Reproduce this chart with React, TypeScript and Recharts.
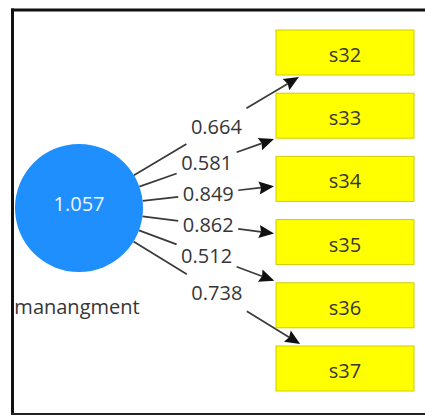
import React from 'react';
import { ScatterChart, Scatter, XAxis, YAxis, ReferenceLine } from 'recharts';

// ---- data ----
const indicators = ['s32', 's33', 's34', 's35', 's36', 's37'];
const loadings = [0.664, 0.581, 0.849, 0.862, 0.512, 0.738];
const latentName = 'manangment';
const latentVariance = [1.057];

// ---- layout ----
const W = 425;
const H = 416;
const FONT = '"Open Sans", "Noto Sans", sans-serif';
const TEXT = '#363636';
const LINE = '#3a3a3a';
const circle = { x: 79, y: 208, r: 64 };
const box = { left: 276, w: 138, h: 45, top: 30, step: 63.2, aimDx: 64, pad: 2 };
const GAP = 30;
const HEAD_L = 15;
const HEAD_W = 6.5;
const FS = 20;

type Pt = { x: number; y: number };

function clip(from: Pt, aim: Pt, b: { x0: number; y0: number; x1: number; y1: number }): Pt {
  const dx = aim.x - from.x;
  const dy = aim.y - from.y;
  let t = 1;
  const cands: number[] = [];
  if (dx > 0) {
    const tt = (b.x0 - from.x) / dx;
    const y = from.y + tt * dy;
    if (y >= b.y0 && y <= b.y1) cands.push(tt);
  }
  if (dy < 0) {
    const tt = (b.y1 - from.y) / dy;
    const x = from.x + tt * dx;
    if (x >= b.x0 && x <= b.x1) cands.push(tt);
  }
  if (dy > 0) {
    const tt = (b.y0 - from.y) / dy;
    const x = from.x + tt * dx;
    if (x >= b.x0 && x <= b.x1) cands.push(tt);
  }
  if (cands.length) t = Math.min(...cands);
  return { x: from.x + t * dx, y: from.y + t * dy };
}

const boxes = indicators.map((name, i) => {
  const top = box.top + i * box.step;
  return { name, x: box.left + box.w / 2, y: top + box.h / 2, top };
});

const edges = boxes.map((b, i) => {
  const c = { x: circle.x, y: circle.y };
  const aim = { x: box.left + box.aimDx, y: b.y };
  const tip = clip(c, aim, {
    x0: box.left - box.pad,
    y0: b.top - box.pad,
    x1: box.left + box.w + box.pad,
    y1: b.top + box.h + box.pad,
  });
  const len = Math.hypot(tip.x - c.x, tip.y - c.y);
  const ux = (tip.x - c.x) / len;
  const uy = (tip.y - c.y) / len;
  const start = { x: c.x + circle.r * ux, y: c.y + circle.r * uy };
  const mid = { x: (start.x + tip.x) / 2, y: (start.y + tip.y) / 2 };
  const atX = (x: number) => ({ x, y: c.y + ((x - c.x) / ux) * uy });
  const base = { x: tip.x - (HEAD_L - 2) * ux, y: tip.y - (HEAD_L - 2) * uy };
  return {
    segA: [start, atX(mid.x - GAP)],
    segB: [atX(mid.x + GAP), base],
    tip: { ...tip, angle: (Math.atan2(uy, ux) * 180) / Math.PI },
    mid: { ...mid, label: loadings[i].toFixed(3) },
  };
});

const Nothing = () => <g />;

const BoxShape = (p: any) => (
  <g>
    <rect
      x={p.cx - box.w / 2}
      y={p.cy - box.h / 2}
      width={box.w}
      height={box.h}
      fill="#ffff00"
      stroke="#d2cc00"
      strokeWidth={1}
    />
    <text
      x={p.cx}
      y={p.cy + 2}
      textAnchor="middle"
      dominantBaseline="central"
      fontFamily={FONT}
      fontSize={FS}
      fill={TEXT}
    >
      {p.payload.name}
    </text>
  </g>
);

const CircleShape = (p: any) => (
  <g>
    <circle cx={p.cx} cy={p.cy} r={circle.r} fill="#1e8ffc" />
    <text
      x={p.cx}
      y={p.cy - 5}
      textAnchor="middle"
      dominantBaseline="central"
      fontFamily={FONT}
      fontSize={FS}
      fill="#eef4ff"
    >
      {p.payload.value.toFixed(3)}
    </text>
    <text
      x={p.cx - 2}
      y={p.cy + 98}
      textAnchor="middle"
      dominantBaseline="central"
      fontFamily={FONT}
      fontSize={FS}
      fill={TEXT}
    >
      {latentName}
    </text>
  </g>
);

const LabelShape = (p: any) => (
  <text
    x={p.cx}
    y={p.cy}
    textAnchor="middle"
    dominantBaseline="central"
    fontFamily={FONT}
    fontSize={FS}
    fill={TEXT}
  >
    {p.payload.label}
  </text>
);

const ArrowShape = (p: any) => (
  <polygon
    points={`0,0 ${-HEAD_L},${-HEAD_W} ${-HEAD_L + 2},0 ${-HEAD_L},${HEAD_W}`}
    transform={`translate(${p.cx},${p.cy}) rotate(${p.payload.angle})`}
    fill="#111"
  />
);

export default function App() {
  const latent = [{ x: circle.x, y: circle.y, value: latentVariance[0] }];
  return (
    <div style={{ position: 'absolute', left: 0, top: 0, width: W, height: H, background: '#fff' }}>
      <ScatterChart width={W} height={H} margin={{ top: 0, right: 0, bottom: 0, left: 0 }}>
        <XAxis type="number" dataKey="x" domain={[0, W]} hide />
        <YAxis type="number" dataKey="y" domain={[0, H]} reversed hide />
        <ReferenceLine segment={[{ x: 12.5, y: 8.5 }, { x: 12.5, y: 415 }]} stroke="#111" strokeWidth={3} />
        <ReferenceLine segment={[{ x: 11, y: 10 }, { x: W, y: 10 }]} stroke="#111" strokeWidth={3} />
        <ReferenceLine segment={[{ x: 11, y: 414 }, { x: W, y: 414 }]} stroke="#222" strokeWidth={2} />
        {edges.map((e, i) => (
          <Scatter
            key={`a${i}`}
            data={e.segA}
            line={{ stroke: LINE, strokeWidth: 1.7 }}
            shape={Nothing}
            isAnimationActive={false}
          />
        ))}
        {edges.map((e, i) => (
          <Scatter
            key={`b${i}`}
            data={e.segB}
            line={{ stroke: LINE, strokeWidth: 1.7 }}
            shape={Nothing}
            isAnimationActive={false}
          />
        ))}
        <Scatter data={edges.map((e) => e.tip)} shape={ArrowShape} isAnimationActive={false} />
        <Scatter data={edges.map((e) => e.mid)} shape={LabelShape} isAnimationActive={false} />
        <Scatter data={boxes} shape={BoxShape} isAnimationActive={false} />
        <Scatter data={latent} shape={CircleShape} isAnimationActive={false} />
      </ScatterChart>
    </div>
  );
}
